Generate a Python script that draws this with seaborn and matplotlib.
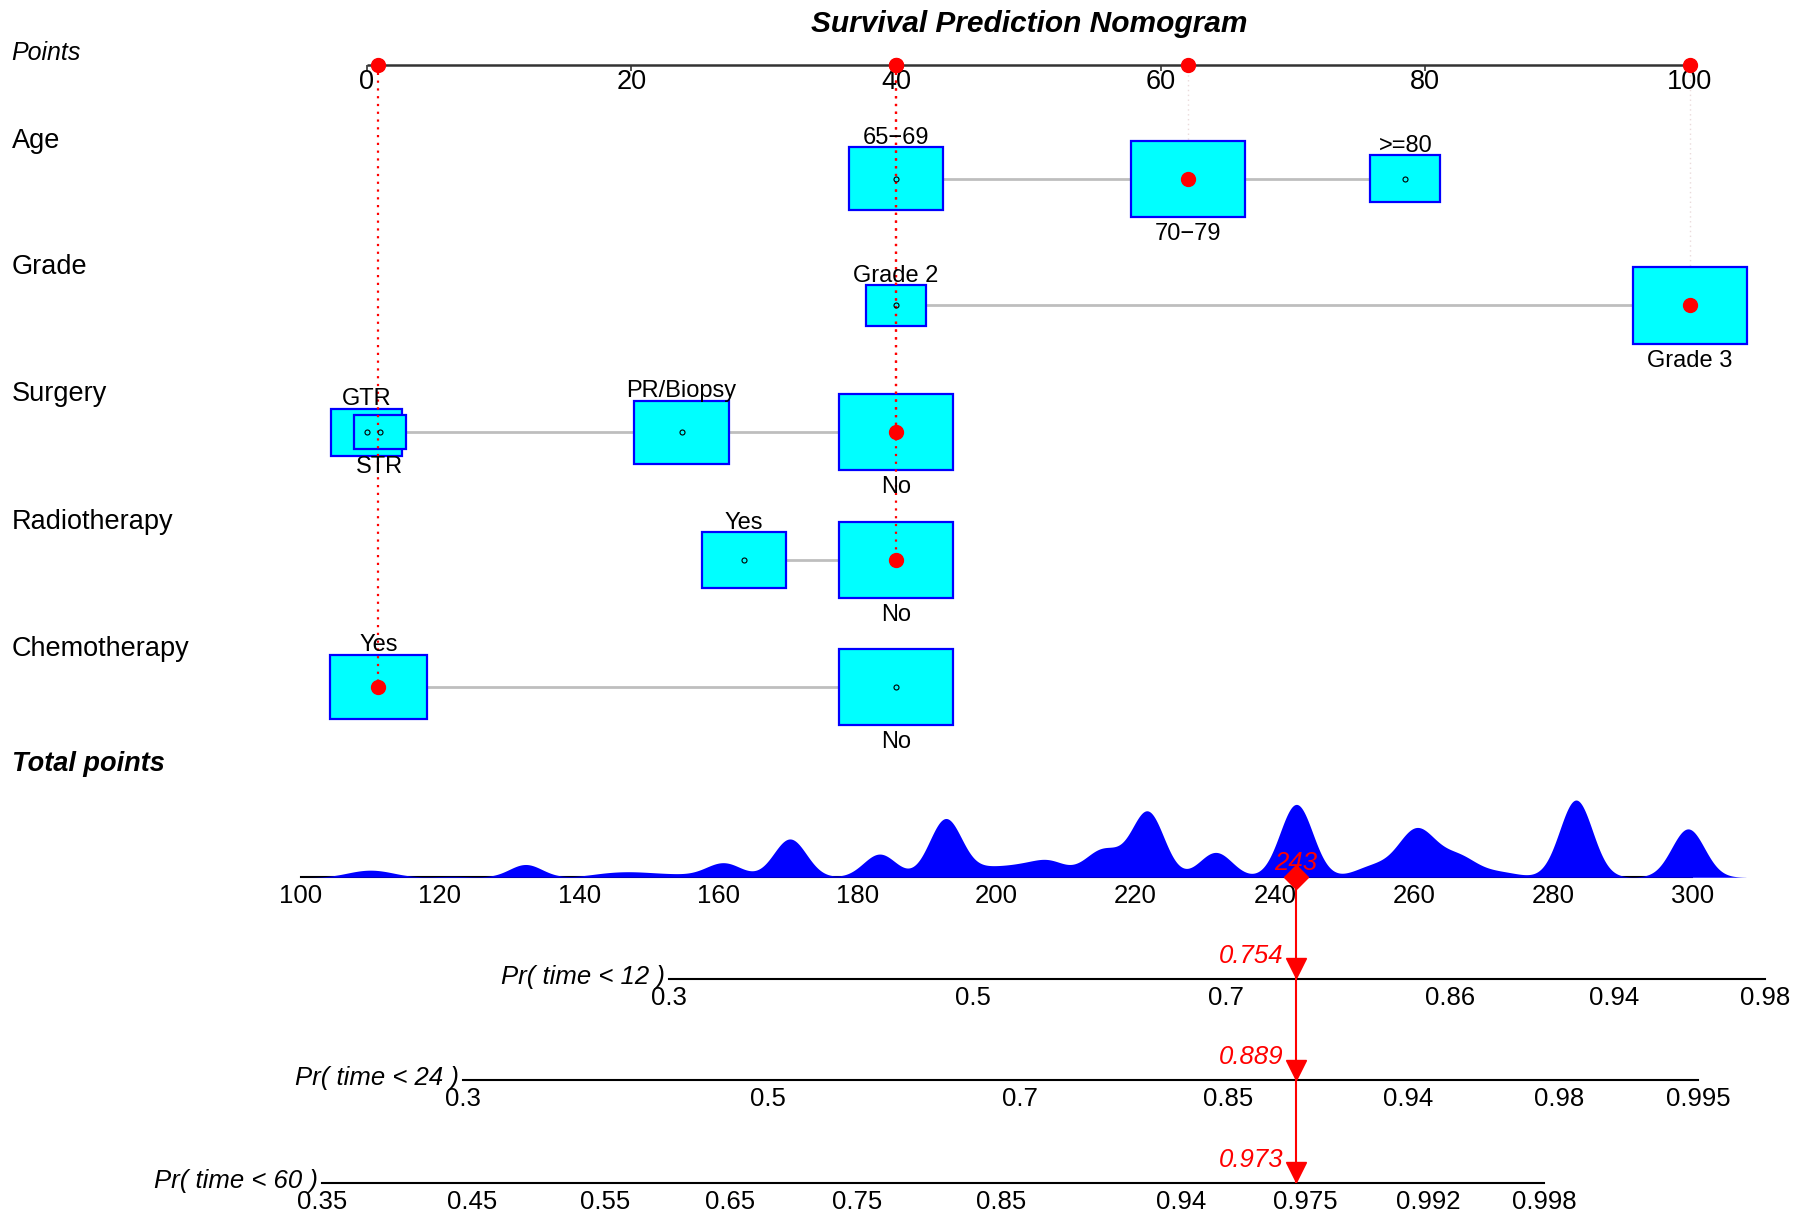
import numpy as np
import pandas as pd
import seaborn as sns
import matplotlib
matplotlib.use("Agg")
import matplotlib.pyplot as plt
from matplotlib.patches import Rectangle

# ---------------- data ----------------
title = "Survival Prediction Nomogram"

age_levels = ["65\u221269", "70\u221279", ">=80"]
age_points = [40.0, 62.1, 78.5]
age_share = [33, 48, 18]

grade_levels = ["Grade 2", "Grade 3"]
grade_points = [40.0, 100.0]
grade_share = [22, 78]

surgery_levels = ["GTR", "STR", "PR/Biopsy", "No"]
surgery_points = [0.0, 1.0, 23.8, 40.0]
surgery_share = [17, 9, 30, 44]

radio_levels = ["Yes", "No"]
radio_points = [28.5, 40.0]
radio_share = [35, 65]

chemo_levels = ["Yes", "No"]
chemo_points = [0.9, 40.0]
chemo_share = [42, 58]

selected_levels = ["70\u221279", "Grade 3", "No", "No", "Yes"]

points_ticks = [0, 20, 40, 60, 80, 100]
total_ticks = [100, 120, 140, 160, 180, 200, 220, 240, 260, 280, 300]

# observed total-point scores (cluster centres) and their weights
total_values = [107.5, 110, 112.5, 120.5, 123, 132.3,
                142.5, 145, 147.5, 150, 152.5, 155, 159.5, 161.5,
                170.3, 183.2, 192.7, 198.5, 201, 203.5, 206, 207.8,
                213.5, 215.8, 221.7, 231.5, 243.1, 253, 255.5,
                259.7, 262.3, 266.5, 270.5, 273.5, 283.3, 299.4]
total_weights = [8, 12, 8, 1.5, 1.5, 38,
                 5, 7, 8, 6, 4.5, 4.5, 19, 28,
                 114, 69, 174, 20, 10, 22, 10, 38,
                 26, 64, 195, 74, 217, 18, 22,
                 105, 60, 55, 12, 9, 230, 144]
kde_bandwidth = 2.35

pr_labels = ["Pr( time < 12 )", "Pr( time < 24 )", "Pr( time < 60 )"]
pr12_ticks = [0.3, 0.5, 0.7, 0.86, 0.94, 0.98]
pr24_ticks = [0.3, 0.5, 0.7, 0.85, 0.94, 0.98, 0.995]
pr60_ticks = [0.35, 0.45, 0.55, 0.65, 0.75, 0.85, 0.94, 0.975, 0.992, 0.998]
pr_pred = [0.754, 0.889, 0.973]
lp_slope = 0.0152
lp_intercepts = [-3.3554, -2.906, -2.4093]

# ---------------- style / layout ----------------
sns.set_style("white")
plt.rcParams["font.family"] = ["Liberation Sans", "DejaVu Sans"]
for k in ["text.color", "axes.labelcolor", "xtick.color", "ytick.color", "axes.edgecolor"]:
    plt.rcParams[k] = "black"

W, H = 1565.0, 1054.0          # layout units (scaled to the figure)
fig = plt.figure(figsize=(18.04, 12.15), dpi=100)

def rect(x0, y0, x1, y1):
    return [x0 / W, 1 - y1 / H, (x1 - x0) / W, (y1 - y0) / H]

CYAN, BLUE, RED, GREY = "#00FFFF", "#0000FF", "#FF0000", "#BEBEBE"
FS_VAR, FS_LEV, FS_TICK = 19.5, 17, 18.5

fig.text(893 / W, 1 - 28 / H, title, ha="center", va="baseline",
         fontsize=21.5, fontweight="bold", fontstyle="italic")

# ---------------- top: points + variables ----------------
ax = fig.add_axes(rect(318, 0, 1466, 700))
ax.set_xlim(0, 100)
ax.set_ylim(700, 0)
ax.axis("off")
ax.patch.set_alpha(0)

pts_y = 56
ax.hlines(pts_y, 0, 100, color="#333333", lw=1.8, clip_on=False)
ax.vlines(points_ticks, pts_y, pts_y + 6, color="#333333", lw=1.2, clip_on=False)
for t in points_ticks:
    ax.text(t, 77, str(t), ha="center", va="baseline", fontsize=FS_VAR)
fig.text(10 / W, 1 - 52 / H, "Points", fontsize=18, fontstyle="italic", va="baseline")

rows = [
    ("Age", age_levels, age_points, age_share, 155, "faint"),
    ("Grade", grade_levels, grade_points, grade_share, 265, "faint"),
    ("Surgery", surgery_levels, surgery_points, surgery_share, 375, "red"),
    ("Radiotherapy", radio_levels, radio_points, radio_share, 486, "red"),
    ("Chemotherapy", chemo_levels, chemo_points, chemo_share, 596, "red"),
]
box_w_max = 99 / 11.48   # in points units
box_h_max = 66           # in layout units

selected_points = []
for (name, levels, pts, share, y, guide), sel in zip(rows, selected_levels):
    fig.text(10 / W, 1 - (y - 27) / H, name, fontsize=FS_VAR, va="baseline")
    ax.hlines(y, min(pts), max(pts), color=GREY, lw=2, zorder=1)
    smax = max(share)
    for i, (lev, p, s) in enumerate(zip(levels, pts, share)):
        f = np.sqrt(s / smax)
        w, h = box_w_max * f, box_h_max * f
        ax.add_patch(Rectangle((p - w / 2, y - h / 2), w, h, facecolor=CYAN,
                               edgecolor=BLUE, lw=1.6, zorder=2, clip_on=False))
        ax.plot(p, y, "o", mfc="none", mec="black", ms=3.6, mew=0.8, zorder=4, clip_on=False)
        if i % 2 == 0:
            ax.text(p, y - h / 2 - 3, lev, ha="center", va="baseline", fontsize=FS_LEV, zorder=6)
        else:
            ax.text(p, y + h / 2 + 20, lev, ha="center", va="baseline", fontsize=FS_LEV, zorder=6)
    p_sel = pts[levels.index(sel)]
    selected_points.append(p_sel)
    if guide == "red":
        ax.plot([p_sel, p_sel], [pts_y, y], color=RED, lw=1.6, ls=(0, (1, 2.5)), zorder=3, clip_on=False)
    else:
        ax.plot([p_sel, p_sel], [pts_y, y], color="#EADADA", lw=1.0, ls=(0, (1, 2.5)), zorder=0.5, clip_on=False)
    ax.plot(p_sel, y, "o", color=RED, ms=10, zorder=5, clip_on=False)
    ax.plot(p_sel, pts_y, "o", color=RED, ms=10, zorder=5, clip_on=False)

total_selected = sum(selected_points)

# ---------------- total points density ----------------
fig.text(10 / W, 1 - 669 / H, "Total points", fontsize=FS_VAR, fontweight="bold",
         fontstyle="italic", va="baseline")

tp_lo, tp_hi = 100.0, 100.0 + (1565 - 261) * 200.0 / (1468 - 261)
axk = fig.add_axes(rect(261, 694, 1565, 761))
axk.patch.set_alpha(0)
vals = np.array(total_values, float)
wts = np.array(total_weights, float)
wstd = float(np.sqrt(np.cov(vals, aweights=wts)))
sns.kdeplot(x=vals, weights=wts, bw_method=kde_bandwidth / wstd, fill=True, color=BLUE,
            alpha=1, linewidth=0, gridsize=2000, cut=3, ax=axk)
ymax = max(p.vertices[:, 1].max() for c in axk.collections for p in c.get_paths())
axk.set_xlim(tp_lo, tp_hi)
axk.set_ylim(0, ymax)
axk.set_ylabel("")
axk.set_yticks([])
for s in ["left", "right", "top"]:
    axk.spines[s].set_visible(False)
axk.spines["bottom"].set_bounds(100, 300)
axk.spines["bottom"].set_linewidth(1.5)
axk.spines["bottom"].set_zorder(0.5)
axk.set_xticks(total_ticks)
axk.set_xticklabels([str(t) for t in total_ticks])
axk.tick_params(axis="x", direction="out", length=5, width=1, pad=0, labelsize=FS_TICK)
axk.plot(total_selected, 0, "D", color=RED, ms=12, zorder=10, clip_on=False)
axk.annotate(f"{total_selected:.0f}", xy=(total_selected, 0), xytext=(0, 10),
             textcoords="offset points", ha="center", va="center", color=RED,
             fontstyle="italic", fontsize=FS_TICK, zorder=11)

# ---------------- probability axes ----------------
pr_ticks = [pr12_ticks, pr24_ticks, pr60_ticks]
pr_rows_y = [(761, 849), (849, 937), (937, 1026)]
for lab, ticks, a, pred, (y0, y1) in zip(pr_labels, pr_ticks, lp_intercepts, pr_pred, pr_rows_y):
    axp = fig.add_axes(rect(261, y0, 1565, y1))
    axp.patch.set_alpha(0)
    fwd = lambda p, a=a: (np.log(-np.log(1 - np.clip(p, 1e-12, 1 - 1e-15))) - a) / lp_slope
    inv = lambda t, a=a: 1 - np.exp(-np.exp(a + lp_slope * np.asarray(t, float)))
    axp.set_xscale("function", functions=(fwd, inv))
    axp.set_xlim(float(inv(tp_lo)), float(inv(tp_hi)))
    axp.set_ylim(0, y1 - y0)
    for s in ["left", "right", "top"]:
        axp.spines[s].set_visible(False)
    axp.spines["bottom"].set_bounds(ticks[0], ticks[-1])
    axp.spines["bottom"].set_linewidth(1.5)
    axp.set_yticks([])
    axp.set_xticks(ticks)
    axp.set_xticklabels([str(t) for t in ticks])
    axp.tick_params(axis="x", direction="out", length=5, width=1, pad=0, labelsize=FS_TICK)
    axp.annotate(lab, xy=(ticks[0], 1.5), xytext=(-3, 0), textcoords="offset points",
                 ha="right", va="center", fontstyle="italic", fontsize=FS_TICK)
    axp.vlines(pred, 0, y1 - y0, color=RED, lw=1.5, zorder=5)
    axp.plot(pred, 9, "v", color=RED, ms=15, zorder=6, clip_on=False)
    axp.annotate(f"{pred:.3f}", xy=(pred, 20), xytext=(-9, 0), textcoords="offset points",
                 ha="right", va="center", color=RED, fontstyle="italic", fontsize=FS_TICK)

fig.savefig("out.png", dpi=100, facecolor="white")
